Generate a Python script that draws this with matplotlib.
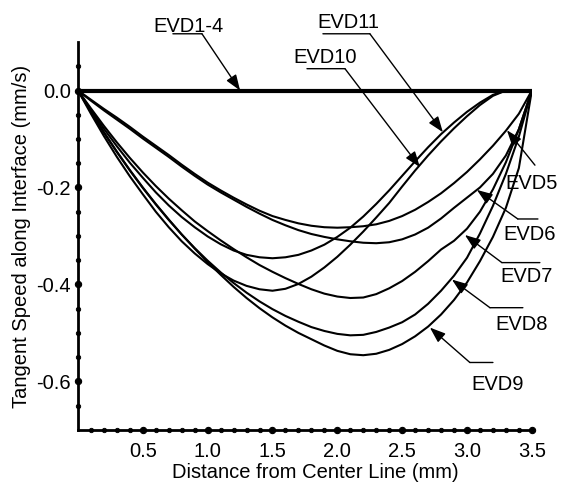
import matplotlib
matplotlib.use("Agg")
import matplotlib.pyplot as plt
import numpy as np

plt.rcParams['font.family'] = ['Liberation Sans', 'DejaVu Sans']

# shared x grid (mm)
x = [0.0, 0.1, 0.2, 0.3, 0.4, 0.5, 0.6, 0.7, 0.8, 0.9, 1.0, 1.1, 1.2,
     1.3, 1.4, 1.5, 1.6, 1.7, 1.8, 1.9, 2.0, 2.1, 2.2, 2.3, 2.4, 2.5,
     2.6, 2.7, 2.8, 2.9, 3.0, 3.1, 3.2, 3.3, 3.4, 3.5]

evd1_4 = [0.0] * 36
evd5 = [0, -0.019, -0.038, -0.056, -0.075, -0.095, -0.114, -0.133, -0.153, -0.172,
        -0.190, -0.206, -0.221, -0.235, -0.248, -0.259, -0.267, -0.274, -0.279, -0.282,
        -0.283, -0.282, -0.280, -0.276, -0.269, -0.259, -0.246, -0.230, -0.212, -0.191,
        -0.168, -0.142, -0.114, -0.083, -0.048, 0]
evd6 = [0, -0.021, -0.041, -0.060, -0.079, -0.099, -0.118, -0.137, -0.157, -0.176,
        -0.194, -0.210, -0.225, -0.240, -0.254, -0.267, -0.278, -0.288, -0.296, -0.302,
        -0.307, -0.311, -0.314, -0.315, -0.313, -0.307, -0.297, -0.283, -0.264, -0.242,
        -0.221, -0.200, -0.172, -0.134, -0.080, 0]
evd7 = [0, -0.037, -0.073, -0.107, -0.139, -0.169, -0.197, -0.223, -0.247, -0.270,
        -0.290, -0.309, -0.327, -0.344, -0.360, -0.374, -0.387, -0.399, -0.410, -0.419,
        -0.425, -0.428, -0.427, -0.420, -0.408, -0.393, -0.374, -0.352, -0.328, -0.310,
        -0.285, -0.250, -0.204, -0.148, -0.080, 0]
evd8 = [0, -0.044, -0.087, -0.127, -0.165, -0.201, -0.235, -0.267, -0.297, -0.325,
        -0.351, -0.375, -0.397, -0.417, -0.435, -0.451, -0.465, -0.477, -0.488, -0.496,
        -0.502, -0.505, -0.504, -0.498, -0.489, -0.478, -0.462, -0.440, -0.413, -0.382,
        -0.345, -0.295, -0.238, -0.172, -0.095, 0]
evd9 = [0, -0.043, -0.086, -0.126, -0.164, -0.200, -0.234, -0.266, -0.297, -0.326,
        -0.354, -0.380, -0.405, -0.428, -0.449, -0.468, -0.485, -0.500, -0.513, -0.526,
        -0.537, -0.544, -0.546, -0.543, -0.535, -0.523, -0.507, -0.487, -0.462, -0.432,
        -0.396, -0.352, -0.302, -0.242, -0.160, 0]
evd10 = [0, -0.048, -0.094, -0.137, -0.177, -0.214, -0.250, -0.282, -0.311, -0.336,
         -0.358, -0.377, -0.392, -0.403, -0.410, -0.413, -0.409, -0.399, -0.384, -0.365,
         -0.343, -0.318, -0.291, -0.262, -0.232, -0.198, -0.165, -0.134, -0.105, -0.078,
         -0.053, -0.030, -0.011, 0, 0, 0]
evd11 = [0, -0.040, -0.079, -0.115, -0.149, -0.180, -0.210, -0.237, -0.261, -0.282,
         -0.301, -0.317, -0.330, -0.339, -0.344, -0.346, -0.344, -0.339, -0.330, -0.318,
         -0.302, -0.283, -0.260, -0.234, -0.206, -0.176, -0.146, -0.117, -0.090, -0.066,
         -0.044, -0.025, -0.009, 0, 0, 0]

xticks = [0.5, 1.0, 1.5, 2.0, 2.5, 3.0, 3.5]
yticks = [0.0, -0.2, -0.4, -0.6]

FS = 14.5

fig = plt.figure(figsize=(5.61, 4.83), dpi=100)
ax = fig.add_axes([0.139, 0.110, 0.809, 0.803])

for ys in [evd5, evd6, evd7, evd8, evd9, evd10, evd11]:
    ax.plot(x, ys, color='black', lw=1.5, solid_capstyle='round')
ax.plot(x, evd1_4, color='black', lw=3.0, solid_capstyle='butt')

ax.set_xlim(0, 3.5)
ax.set_ylim(-0.7, 0.1)
for s in ['top', 'right']:
    ax.spines[s].set_visible(False)
for s in ['left', 'bottom']:
    ax.spines[s].set_linewidth(2.0)

ax.set_xticks(xticks)
ax.set_xticklabels([f"{v:.1f}" for v in xticks])
ax.set_yticks(yticks)
ax.set_yticklabels([f"{v:.1f}" for v in yticks])
ax.set_xticks(np.arange(0.1, 3.45, 0.1), minor=True)
ax.set_yticks(np.arange(-0.65, 0.08, 0.05), minor=True)
ax.tick_params(which='both', length=0, labelsize=FS)
ax.tick_params(axis='x', pad=9)
ax.tick_params(axis='y', pad=5)

fig.canvas.draw()
for axis in [ax.xaxis, ax.yaxis]:
    for t in axis.get_major_ticks():
        t.tick1line.set_marker('o')
        t.tick1line.set_markersize(4.5)
        t.tick1line.set_markerfacecolor('black')
        t.tick1line.set_markeredgecolor('black')
    for t in axis.get_minor_ticks():
        t.tick1line.set_marker('o')
        t.tick1line.set_markersize(3.2)
        t.tick1line.set_markerfacecolor('black')
        t.tick1line.set_markeredgecolor('black')

ax.set_xlabel('Distance from Center Line (mm)', fontsize=FS)
ax.xaxis.set_label_coords(0.522, -0.085)
ax.set_ylabel('Tangent Speed along Interface (mm/s)', fontsize=FS, labelpad=4)

arrow = dict(arrowstyle='-|>,head_length=0.95,head_width=0.35', color='black',
             lw=1.0, shrinkA=0, shrinkB=0)
plain = dict(arrowstyle='-', color='black', lw=1.0, shrinkA=0, shrinkB=0)

# (label, text pos, leader start, underline other end, arrow tip)
labels = [
    ('EVD1-4', (0.856, 0.133), (0.956, 0.117), (0.732, 0.117), (1.25, 0.0)),
    ('EVD11', (2.082, 0.140), (2.251, 0.117), (1.889, 0.117), (2.814, -0.086)),
    ('EVD10', (1.904, 0.068), (2.059, 0.045), (1.766, 0.045), (2.637, -0.158)),
    ('EVD5', (3.50, -0.191), (3.524, -0.154), None, (3.308, -0.082)),
    ('EVD6', (3.485, -0.298), (3.392, -0.265), (3.547, -0.265), (3.076, -0.205)),
    ('EVD7', (3.462, -0.384), (3.269, -0.355), (3.562, -0.355), (2.984, -0.298)),
    ('EVD8', (3.423, -0.483), (3.177, -0.448), (3.431, -0.448), (2.884, -0.390)),
    ('EVD9', (3.238, -0.606), (3.022, -0.561), (3.200, -0.561), (2.714, -0.489)),
]
for name, tpos, start, uend, tip in labels:
    ax.text(tpos[0], tpos[1], name, fontsize=FS, ha='center', va='center',
            clip_on=False)
    if uend is not None:
        ax.annotate('', xy=uend, xytext=start, arrowprops=plain,
                    annotation_clip=False)
    ax.annotate('', xy=tip, xytext=start, arrowprops=arrow,
                annotation_clip=False)

fig.savefig('out.png', dpi=100)
